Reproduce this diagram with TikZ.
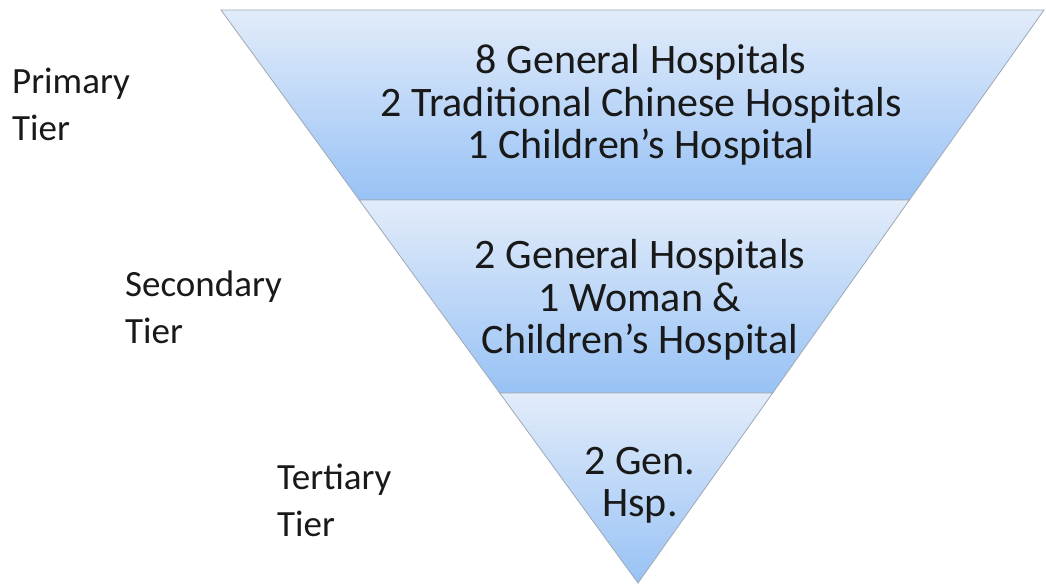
\documentclass[tikz,border=0pt]{standalone}
\usepackage{fontspec}
\setmainfont{Carlito}
\usetikzlibrary{calc}
\definecolor{bandtop}{HTML}{E2ECFA}
\definecolor{bandbot}{HTML}{98C2F5}
\definecolor{bandline}{HTML}{A0A8B4}
\tikzset{
  band/.style={draw=bandline, line width=0.8pt, top color=bandtop, bottom color=bandbot},
  tiertext/.style={align=center, inner sep=0pt, font=\fontsize{42}{42.5}\selectfont, text=black!90},
  tierlabel/.style={align=left, anchor=west, inner sep=0pt, font=\fontsize{37}{47}\selectfont, text=black!90}
}
\begin{document}
\begin{tikzpicture}[x=1pt, y=-1pt]
  \useasboundingbox (0,0) rectangle (1046,584);

  % corners of the funnel
  \coordinate (tl) at (221,10);
  \coordinate (tr) at (1044,10);
  \coordinate (apex) at (638,583);
  \coordinate (l1) at ($(tl)!0.3316!(apex)$);
  \coordinate (r1) at ($(tr)!0.3316!(apex)$);
  \coordinate (l2) at ($(tl)!0.6684!(apex)$);
  \coordinate (r2) at ($(tr)!0.6684!(apex)$);

  \draw [band] (tl) -- (tr) -- (r1) -- (l1) -- cycle;
  \draw [band] (l1) -- (r1) -- (r2) -- (l2) -- cycle;
  \draw [band] (l2) -- (r2) -- (apex) -- cycle;

  \node [tiertext] (primary) at (641,105)
    {8 General Hospitals\\2 Traditional Chinese Hospitals\\1 Children’s Hospital};
  \node [tiertext] (secondary) at (640,300)
    {2 General Hospitals\\1 Woman \&\\Children’s Hospital};
  \node [tiertext] (tertiary) at (640,485) {2 Gen.\\Hsp.};

  \node [tierlabel] (plabel) at (12,104) {Primary\\Tier};
  \node [tierlabel] (slabel) at (125,307) {Secondary\\Tier};
  \node [tierlabel] (tlabel) at (277,500) {Tertiary\\Tier};
\end{tikzpicture}
\end{document}
